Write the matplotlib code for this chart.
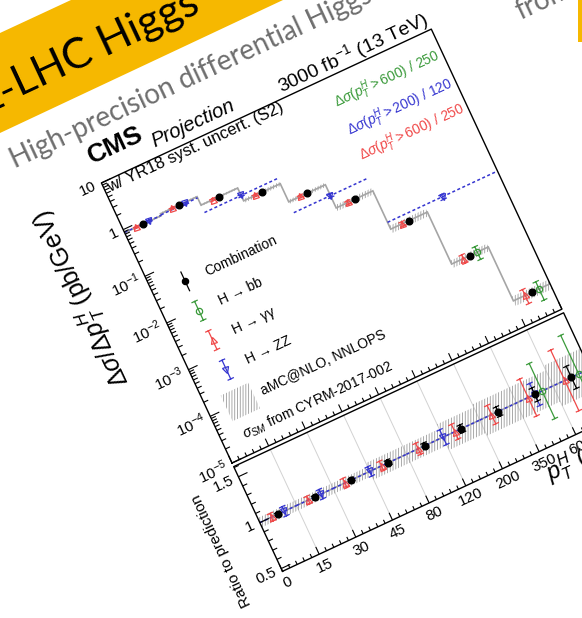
import numpy as np
import matplotlib
matplotlib.use('Agg')
import matplotlib.pyplot as plt
from matplotlib.transforms import Affine2D
from matplotlib.markers import MarkerStyle
from matplotlib.patches import Polygon, Rectangle

plt.rcParams['font.family'] = ['Liberation Sans', 'DejaVu Sans']
plt.rcParams['mathtext.fontset'] = 'custom'
plt.rcParams['mathtext.rm'] = 'Liberation Sans'
plt.rcParams['mathtext.it'] = 'Liberation Sans:italic'
plt.rcParams['mathtext.bf'] = 'Liberation Sans:bold'
plt.rcParams['hatch.linewidth'] = 0.6

# ---- data (bin index on x, 9 pT bins) ----
edge_labels = ['0', '15', '30', '45', '80', '120', '200', '350', '600']
bin_edges = np.arange(10)
sm_xsec = [0.86, 0.94, 0.62, 0.33, 0.135, 0.043, 0.0065, 5.0e-4, 3.5e-5]   # pb/GeV
sm_unc = [0.05, 0.05, 0.05, 0.09, 0.09, 0.14, 0.17, 0.17, 0.22]

comb_ratio = [1.0, 1.0, 1.0, 1.0, 1.0, 1.0, 1.0, 1.0, 1.0]
comb_err = [0.02, 0.02, 0.02, 0.03, 0.03, 0.04, 0.05, 0.07, 0.12]

gg_ratio = [1.0, 1.0, 1.0, 1.0, 1.0, 1.0, 1.0, 1.0, 1.0]
gg_err = [0.04, 0.04, 0.05, 0.05, 0.06, 0.08, 0.10, 0.20, 0.33]

bb_bins = [7, 8]
bb_ratio = [1.0, 1.0]
bb_err = [0.30, 0.42]

zz_lo = [0, 1, 2, 4, 6]
zz_hi = [1, 2, 4, 6, 9]
zz_xsec = [0.87, 0.89, 0.43, 0.079, 0.0091]
zz_ratio = [1.0, 1.0, 1.0, 1.0, 1.0]
zz_err = [0.05, 0.05, 0.05, 0.08, 0.12]

legend_labels = ['Combination', 'H → bb', 'H → γγ', 'H → ZZ']
legend_colors = ['black', '#3a9a3a', '#f04848', '#3535d0']

# ---- geometry of the tilted slide picture ----
fig = plt.figure(figsize=(5.82, 6.18), dpi=100)
ax = fig.add_axes([0, 0, 1, 1])
ax.set_xlim(0, 582)
ax.set_ylim(618, 0)
ax.axis('off')
ax.set_autoscale_on(False)

ANG = 25.0
C, S = np.cos(np.deg2rad(ANG)), np.sin(np.deg2rad(ANG))
OX, OY = 232.0, 463.0          # bottom-left of upper pad
PW, PH = 364.0, 309.0          # pad width / upper pad height (px)
GAP, RH = 4.0, 115.5           # gap and ratio pad height (px)
YR = (0.47, 1.61)

rot = Affine2D(np.array([[C, -S, OX], [-S, -C, OY], [0, 0, 1.0]]))


def panel(y0, y1, b0, h):
    return (Affine2D().translate(0, -y0).scale(PW / 9, h / (y1 - y0))
            .translate(0, b0) + rot + ax.transData)


tr_up = panel(-5, 1, 0, PH)
tr_rt = panel(YR[0], YR[1], -GAP - RH, RH)
px_x = 9 / PW
px_up = 6 / PH
px_rt = (YR[1] - YR[0]) / RH


def txt(tr, x, y, s, rot_=ANG, **kw):
    ax.text(x, y, s, transform=tr, rotation=rot_, rotation_mode='anchor', **kw)


def mk(shape, fill):
    return MarkerStyle(shape, fillstyle=fill, transform=Affine2D().rotate_deg(ANG))


def bars(tr, x, lo, hi, color, cap=0.07):
    xs, ys = [], []
    for xi, l, h in zip(x, lo, hi):
        xs += [xi, xi, np.nan, xi - cap, xi + cap, np.nan, xi - cap, xi + cap, np.nan]
        ys += [l, h, np.nan, l, l, np.nan, h, h, np.nan]
    ax.plot(xs, ys, color=color, lw=0.9, transform=tr, zorder=4)


def ticks(tr, pos, axis, at, length, lw=0.8):
    xs, ys = [], []
    for p in pos:
        if axis == 'x':
            xs += [p, p, np.nan]
            ys += [at, at + length, np.nan]
        else:
            xs += [at, at + length, np.nan]
            ys += [p, p, np.nan]
    ax.plot(xs, ys, color='black', lw=lw, transform=tr, solid_capstyle='butt', zorder=6)


# ---- slide background elements ----
ax.add_patch(Polygon([(0, 33), (71, 0), (283, 0), (0, 133)], closed=True,
                     facecolor='#f6b800', edgecolor='none', zorder=0))
ax.add_patch(Rectangle((578, 0), 4, 42, facecolor='#f6b800', edgecolor='none', zorder=0))
ax.text(20, 97, 'HL-', rotation=ANG, rotation_mode='anchor', ha='right', va='baseline',
        fontsize=31, family='Lato', color='black')
ax.text(20, 97, 'LHC Higgs', rotation=ANG, rotation_mode='anchor', ha='left', va='baseline',
        fontsize=31, family='Lato', color='black')
ax.text(15, 168, 'High-precision differential Higgs xsec', rotation=ANG, rotation_mode='anchor',
        ha='left', va='baseline', fontsize=20, family='Lato', color='#6e6e6e')
ax.text(520, 20, 'from', rotation=ANG, rotation_mode='anchor',
        ha='left', va='baseline', fontsize=20, family='Lato', color='#6e6e6e')

# ---- upper pad ----
up_val = np.array(sm_xsec)
unc = np.array(sm_unc)
ax.stairs(np.log10(up_val * (1 + unc)), bin_edges, baseline=np.log10(up_val * (1 - unc)),
          fill=True, facecolor='none', edgecolor='#9a9a9a', linewidth=0, hatch='||||||',
          transform=tr_up, zorder=2)
ax.stairs(np.log10(up_val), bin_edges, baseline=None, color='#a5a5a5', lw=1.2,
          transform=tr_up, zorder=2.5)

# ZZ wide bins (dashed)
xs, ys = [], []
for lo, hi, v, r in zip(zz_lo, zz_hi, zz_xsec, zz_ratio):
    xs += [lo, hi, np.nan]
    ys += [np.log10(v * r)] * 2 + [np.nan]
ax.plot(xs, ys, color=legend_colors[3], lw=1.1, ls=(0, (2, 1.6)), transform=tr_up, zorder=3)

centers = np.arange(9) + 0.5
comb_v = up_val * np.array(comb_ratio)
gg_v = up_val * np.array(gg_ratio)
bb_v = up_val[bb_bins] * np.array(bb_ratio)
zz_c = (np.array(zz_lo) + np.array(zz_hi)) / 2
zz_c = np.where(np.array(zz_hi) - np.array(zz_lo) == 1, zz_c + 0.17, zz_c)
zz_v = np.array(zz_xsec) * np.array(zz_ratio)

gx = centers - 0.18
bx = np.array(bb_bins) + 0.5 + 0.2
bars(tr_up, gx, np.log10(gg_v * (1 - np.array(gg_err))), np.log10(gg_v * (1 + np.array(gg_err))),
     legend_colors[2])
bars(tr_up, bx, np.log10(bb_v * (1 - np.array(bb_err))), np.log10(bb_v * (1 + np.array(bb_err))),
     legend_colors[1])
bars(tr_up, zz_c, np.log10(zz_v * (1 - np.array(zz_err))), np.log10(zz_v * (1 + np.array(zz_err))),
     legend_colors[3])
bars(tr_up, centers, np.log10(comb_v * (1 - np.array(comb_err))),
     np.log10(comb_v * (1 + np.array(comb_err))), 'black', cap=0.0)

ax.plot(gx, np.log10(gg_v), ls='none', marker=mk('^', 'none'), ms=4.5, mew=0.9,
        color=legend_colors[2], transform=tr_up, zorder=5)
ax.plot(bx, np.log10(bb_v), ls='none', marker=mk('o', 'none'), ms=4.5, mew=0.9,
        color=legend_colors[1], transform=tr_up, zorder=5)
ax.plot(zz_c, np.log10(zz_v), ls='none', marker=mk('v', 'none'), ms=4.5, mew=0.9,
        color=legend_colors[3], transform=tr_up, zorder=5)
ax.plot(centers, np.log10(comb_v), ls='none', marker=mk('o', 'full'), ms=4.8,
        color='black', transform=tr_up, zorder=5)

# frame + ticks
ax.plot([0, 9, 9, 0, 0], [-5, -5, 1, 1, -5], color='black', lw=1.0, transform=tr_up, zorder=6)
major_y = np.arange(-5, 2)
minor_y = [np.log10(k) + d for d in range(-5, 1) for k in range(2, 10)]
ticks(tr_up, major_y, 'y', 0, 10 * px_x)
ticks(tr_up, minor_y, 'y', 0, 5 * px_x)
ticks(tr_up, np.arange(0, 10), 'x', -5, 8 * px_up)
ticks(tr_up, [m for m in np.arange(0, 9, 0.2) if abs(m - round(m)) > 1e-6], 'x', -5, 4 * px_up)

for d in major_y:
    lab = '10' if d == 1 else ('1' if d == 0 else '$10^{%d}$' % d)
    txt(tr_up, -6 * px_x, d, lab, ha='right', va='center', fontsize=11)

txt(tr_up, -66 * px_x, 1, r'$\Delta\sigma/\Delta p_{T}^{H}$ (pb/GeV)', rot_=ANG + 90,
    ha='right', va='center', fontsize=18)

# header texts
txt(tr_up, -0.03, 1 + 21 * px_up, 'CMS', ha='left', va='baseline', fontsize=19, fontweight='bold')
txt(tr_up, 1.57, 1 + 10 * px_up, 'Projection', ha='left', va='baseline', fontsize=14.5,
    fontstyle='italic')
txt(tr_up, 0.1, 1 - 12 * px_up, 'w/ YR18 syst. uncert. (S2)', ha='left', va='baseline', fontsize=12)
txt(tr_up, 9.0, 1 + 5.5 * px_up, '3000 fb$^{-1}$ (13 TeV)', ha='right', va='baseline', fontsize=14)
txt(tr_up, 8.9, 0.475, r'$\Delta\sigma(p_{T}^{H} > 600)$ / 250', ha='right', va='center',
    fontsize=10, color=legend_colors[1])
txt(tr_up, 8.9, -0.124, r'$\Delta\sigma(p_{T}^{H} > 200)$ / 120', ha='right', va='center',
    fontsize=10, color=legend_colors[3])
txt(tr_up, 8.9, -0.67, r'$\Delta\sigma(p_{T}^{H} > 600)$ / 250', ha='right', va='center',
    fontsize=10, color=legend_colors[2])

# legend
leg_y = [-1.42, -2.05, -2.68, -3.31]
leg_mk = [mk('o', 'full'), mk('o', 'none'), mk('^', 'none'), mk('v', 'none')]
for yy, lab, col, m in zip(leg_y, legend_labels, legend_colors, leg_mk):
    bars(tr_up, [0.85], [yy - 0.2], [yy + 0.2], col, cap=0.0 if col == 'black' else 0.07)
    ax.plot([0.85], [yy], ls='none', marker=m, ms=4.5, mew=0.9, color=col,
            transform=tr_up, zorder=5)
    txt(tr_up, 1.4, yy, lab, ha='left', va='center', fontsize=10)
ax.add_patch(Rectangle((0.45, -4.27), 0.75, 0.55, facecolor='none', edgecolor='#9a9a9a',
                       linewidth=0, hatch='||||||', transform=tr_up, zorder=2))
txt(tr_up, 1.4, -3.98, 'aMC@NLO, NNLOPS', ha='left', va='center', fontsize=10)
txt(tr_up, 0.55, -4.6, r'$\sigma_{SM}$ from CYRM-2017-002', ha='left', va='center', fontsize=10)

# ---- ratio pad ----
for xg in range(1, 9):
    ax.plot([xg, xg], [YR[0], YR[1]], color='#d2d2d2', lw=0.7, transform=tr_rt, zorder=1)
ax.stairs(1 + unc, bin_edges, baseline=1 - unc, fill=True, facecolor='none',
          edgecolor='#9a9a9a', linewidth=0, hatch='||||||', transform=tr_rt, zorder=2)
ax.stairs(np.ones(9), bin_edges, baseline=None, color='#a5a5a5', lw=1.2,
          transform=tr_rt, zorder=2.5)
xs, ys = [], []
for lo, hi, r in zip(zz_lo, zz_hi, zz_ratio):
    xs += [lo, hi, np.nan]
    ys += [r, r, np.nan]
ax.plot(xs, ys, color=legend_colors[3], lw=1.1, ls=(0, (2, 1.6)), transform=tr_rt, zorder=3)

bars(tr_rt, gx, np.array(gg_ratio) - gg_err, np.array(gg_ratio) + gg_err, legend_colors[2])
bars(tr_rt, bx, np.array(bb_ratio) - bb_err, np.array(bb_ratio) + bb_err, legend_colors[1])
bars(tr_rt, zz_c, np.array(zz_ratio) - zz_err, np.array(zz_ratio) + zz_err, legend_colors[3])
bars(tr_rt, centers, np.array(comb_ratio) - comb_err, np.array(comb_ratio) + comb_err, 'black')
ax.plot(gx, gg_ratio, ls='none', marker=mk('^', 'none'), ms=4.5, mew=0.9,
        color=legend_colors[2], transform=tr_rt, zorder=5)
ax.plot(bx, bb_ratio, ls='none', marker=mk('o', 'none'), ms=4.5, mew=0.9,
        color=legend_colors[1], transform=tr_rt, zorder=5)
ax.plot(zz_c, zz_ratio, ls='none', marker=mk('v', 'none'), ms=4.5, mew=0.9,
        color=legend_colors[3], transform=tr_rt, zorder=5)
ax.plot(centers, comb_ratio, ls='none', marker=mk('o', 'full'), ms=4.8,
        color='black', transform=tr_rt, zorder=5)

ax.plot([0, 9, 9, 0, 0], [YR[0], YR[0], YR[1], YR[1], YR[0]], color='black', lw=1.0,
        transform=tr_rt, zorder=6)
ticks(tr_rt, [0.5, 1.0, 1.5], 'y', 0, 10 * px_x)
ticks(tr_rt, [m for m in np.arange(0.5, 1.61, 0.1) if abs(m * 2 - round(m * 2)) > 1e-6],
      'y', 0, 5 * px_x)
ticks(tr_rt, np.arange(0, 10), 'x', YR[0], 8 * px_rt)
ticks(tr_rt, [m for m in np.arange(0, 9, 0.2) if abs(m - round(m)) > 1e-6], 'x', YR[0], 4 * px_rt)

for v, lab in zip([0.5, 1.0, 1.5], ['0.5', '1', '1.5']):
    txt(tr_rt, -6 * px_x, v, lab, ha='right', va='center', fontsize=11)
for i, lab in enumerate(edge_labels):
    txt(tr_rt, i, YR[0] - 12.5 * px_rt, lab, ha='center', va='center', fontsize=11)

txt(tr_rt, -46 * px_x, 0.91, 'Ratio to prediction', rot_=ANG + 90, ha='center', va='center',
    fontsize=11)
txt(tr_rt, 6.95, YR[0] - 24 * px_rt, r'$p_{T}^{H}$ (GeV)', ha='left', va='center', fontsize=17)

fig.savefig('out.png', dpi=100)
